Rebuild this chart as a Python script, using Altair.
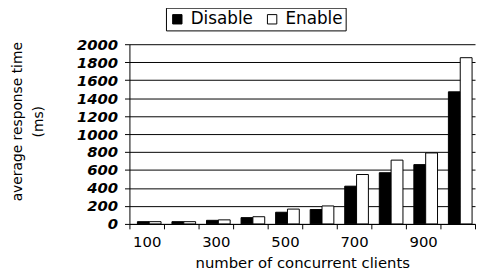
import altair as alt
import pandas as pd

clients = [100, 200, 300, 400, 500, 600, 700, 800, 900, 1000]
disable = [25, 25, 40, 70, 130, 160, 420, 570, 660, 1470]
enable = [25, 25, 45, 80, 165, 200, 550, 710, 790, 1850]
series = ["Disable", "Enable"]
y_ticks = [0, 200, 400, 600, 800, 1000, 1200, 1400, 1600, 1800, 2000]

rows = []
for c, d, e in zip(clients, disable, enable):
    rows.append({"clients": c, "status": "Disable", "time": d})
    rows.append({"clients": c, "status": "Enable", "time": e})
df = pd.DataFrame(rows)

FONT = "DejaVu Sans"

chart = alt.Chart(df).mark_bar(stroke="black", strokeWidth=1).encode(
    x=alt.X(
        "clients:O",
        scale=alt.Scale(paddingInner=0, paddingOuter=0),
        axis=alt.Axis(
            title="number of concurrent clients",
            labelAngle=0,
            labelExpr="datum.value % 200 == 100 ? datum.label : ''",
            tickBand="extent",
            tickSize=5,
            tickColor="black",
            domainColor="black",
            labelFont=FONT,
            labelFontSize=15,
            labelColor="black",
            labelPadding=6,
            titleFont=FONT,
            titleFontSize=15,
            titleFontWeight="normal",
            titleColor="black",
            titlePadding=6,
        ),
    ),
    xOffset=alt.XOffset(
        "status:N",
        sort=series,
        scale=alt.Scale(paddingInner=0, paddingOuter=0.46, align=0.73),
    ),
    y=alt.Y(
        "time:Q",
        scale=alt.Scale(domain=[0, 2000], nice=False),
        axis=alt.Axis(
            title=["average response time", "(ms)"],
            values=y_ticks,
            format="d",
            grid=True,
            gridColor="black",
            gridOpacity=1,
            gridWidth=1,
            tickSize=5,
            tickColor="black",
            domainColor="black",
            labelFont=FONT,
            labelFontSize=15,
            labelFontWeight="bold",
            labelFontStyle="oblique",
            labelColor="black",
            labelPadding=7,
            titleFont=FONT,
            titleFontSize=14,
            titleFontWeight="normal",
            titleColor="black",
            titleLineHeight=21,
            titleBaseline="middle",
            titleX=-113,
            titleY=78,
        ),
    ),
    color=alt.Color(
        "status:N",
        sort=series,
        scale=alt.Scale(domain=series, range=["black", "white"]),
        legend=alt.Legend(
            title=None,
            orient="none",
            legendX=37,
            legendY=-37,
            direction="horizontal",
            strokeColor="black",
            padding=3,
            symbolType="square",
            symbolSize=90,
            symbolStrokeColor="black",
            symbolStrokeWidth=1,
            labelFont=FONT,
            labelFontSize=17,
            labelColor="black",
            labelOffset=5,
            columnPadding=10,
        ),
    ),
).properties(
    width=350,
    height=182,
    autosize=alt.AutoSizeParams(type="none"),
    padding={"left": 123, "top": 35, "right": 1, "bottom": 46},
).configure_view(strokeWidth=0)

chart.save("out.html", embed_options={"renderer": "svg", "actions": False})
